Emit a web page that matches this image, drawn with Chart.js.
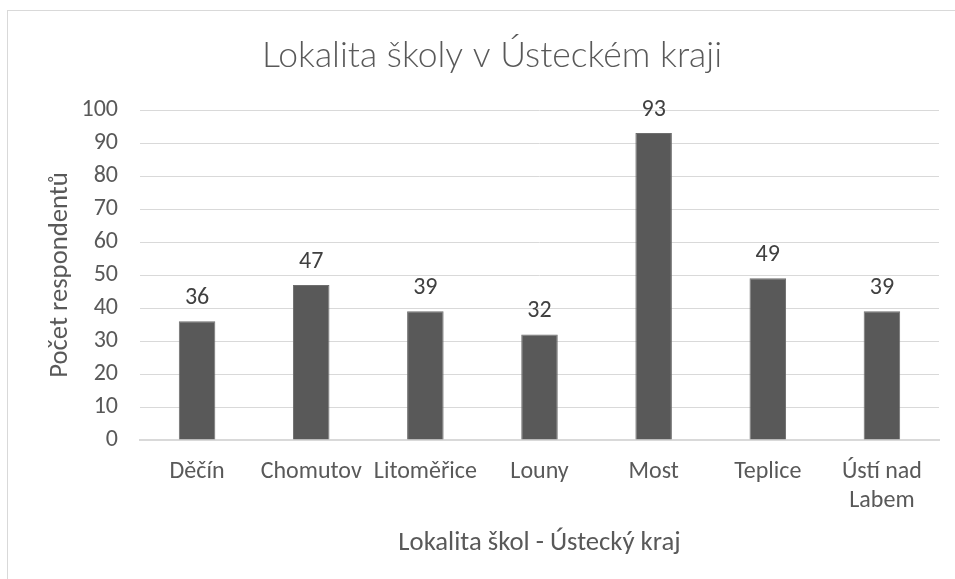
<!DOCTYPE html>
<html>
<head>
<meta charset="utf-8">
<script src="https://cdn.jsdelivr.net/npm/chart.js@4"></script>
<style>
  html, body { margin: 0; padding: 0; background: #fff; }
  #wrap { position: relative; width: 955px; height: 579px; overflow: hidden; }
  #frame { position: absolute; left: 7px; top: 10px; width: 990px; height: 620px; border: 1px solid #d9d9d9; box-sizing: border-box; }
  canvas { position: absolute; left: 0; top: 0; }
</style>
</head>
<body>
<div id="wrap">
  <div id="frame"></div>
  <canvas id="c" width="955" height="579"></canvas>
</div>
<script>
const chartTitle = "Lokalita školy v Ústeckém kraji";
const xAxisTitle = "Lokalita škol - Ústecký kraj";
const yAxisTitle = "Počet respondentů";
const categories = ["Děčín", "Chomutov", "Litoměřice", "Louny", "Most", "Teplice", ["Ústí nad", "Labem"]];
const respondents = [36, 47, 39, 32, 93, 49, 39];
const yMin = 0, yMax = 100, yStep = 10;

const FONT = "Carlito, Calibri, 'Open Sans', sans-serif";
const TITLE_FONT = "Lato, Carlito, sans-serif";
const TXT = "#595959";

const titleAndLabels = {
  id: "titleAndLabels",
  afterDraw(chart) {
    const ctx = chart.ctx;
    ctx.save();
    ctx.font = "300 35.5px " + TITLE_FONT;
    ctx.fillStyle = TXT;
    ctx.textAlign = "center";
    ctx.textBaseline = "alphabetic";
    ctx.fillText(chartTitle, 492, 66.5);
    ctx.restore();
  },
  afterDatasetsDraw(chart) {
    const ctx = chart.ctx;
    ctx.save();
    ctx.font = "24px " + FONT;
    ctx.fillStyle = "#404040";
    ctx.textAlign = "center";
    ctx.textBaseline = "alphabetic";
    chart.getDatasetMeta(0).data.forEach((bar, i) => {
      ctx.fillText(String(chart.data.datasets[0].data[i]), bar.x, bar.y - 17);
    });
    ctx.restore();
  }
};

new Chart(document.getElementById("c"), {
  type: "bar",
  data: {
    labels: categories,
    datasets: [{
      data: respondents,
      backgroundColor: "#595959",
      borderColor: "#6e6e6e",
      borderWidth: 1,
      categoryPercentage: 1,
      barPercentage: 0.32
    }]
  },
  options: {
    responsive: false,
    animation: false,
    layout: { padding: { left: 0, right: 16, top: 110, bottom: 0 } },
    plugins: {
      legend: { display: false },
      tooltip: { enabled: false },
      title: { display: false }
    },
    scales: {
      x: {
        grid: { display: false, drawTicks: false },
        border: { display: true, color: "#d9d9d9", width: 2 },
        ticks: { color: TXT, font: { family: FONT, size: 24, lineHeight: 1.22 }, padding: 17, maxRotation: 0, autoSkip: false },
        title: { display: true, text: xAxisTitle, color: TXT, font: { family: FONT, size: 26.7, lineHeight: 1.2 }, padding: { top: 0, bottom: 20 } },
        afterFit(s) { s.height = 139; }
      },
      y: {
        min: yMin, max: yMax,
        ticks: { stepSize: yStep, color: TXT, font: { family: FONT, size: 24 }, padding: 22 },
        grid: { color: "#d9d9d9", lineWidth: 1, drawTicks: false },
        border: { display: false },
        title: { display: true, text: yAxisTitle, color: TXT, font: { family: FONT, size: 26.7, lineHeight: 1.2 }, padding: { top: 44, bottom: 0 } },
        afterFit(s) { s.width = 140; }
      }
    }
  },
  plugins: [titleAndLabels]
});
</script>
</body>
</html>
